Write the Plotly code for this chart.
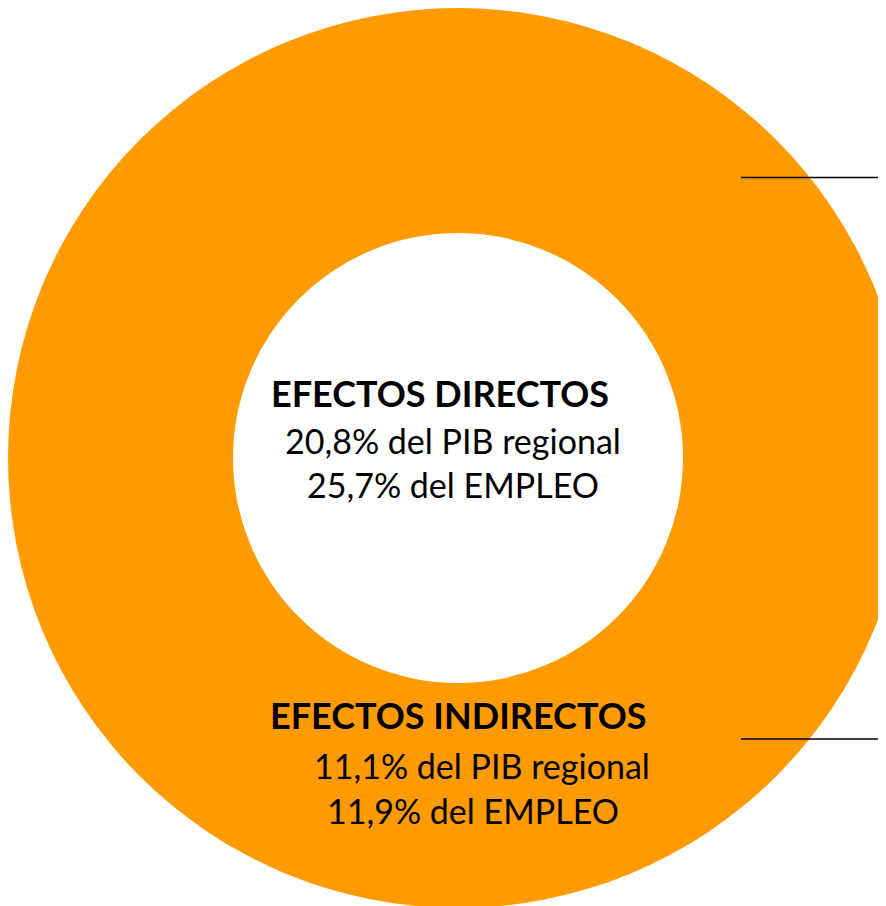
import plotly.graph_objects as go

# ---- data ----
ring_labels = ["EFECTOS INDIRECTOS"]
ring_values = [1]
direct_title = "EFECTOS DIRECTOS"
direct_lines = ["20,8% del PIB regional", "25,7% del EMPLEO"]
indirect_title = "EFECTOS INDIRECTOS"
indirect_lines = ["11,1% del PIB regional", "11,9% del EMPLEO"]

ORANGE = "#FF9B00"
FONT = "Lato"

# figure is offset by the 8px page margin; it is made a bit larger so the ring
# runs off the right edge like in the reference
W, H = 906, 914
OFF = 8
D = 900  # ring diameter in px

fig = go.Figure()
fig.add_trace(go.Pie(
    labels=ring_labels,
    values=ring_values,
    hole=0.50,
    sort=False,
    textinfo="none",
    hoverinfo="skip",
    marker=dict(colors=[ORANGE], line=dict(width=0)),
    domain=dict(x=[0.0, D / W], y=[1 - D / H, 1.0]),
    showlegend=False,
))


def ann(text, xc, yc, size, bold=False):
    fig.add_annotation(
        text=f"<b>{text}</b>" if bold else text,
        x=(xc - OFF) / W, y=1 - (yc - OFF) / H, xref="paper", yref="paper",
        xanchor="center", yanchor="middle", showarrow=False,
        font=dict(family=FONT, size=size, color="#000000"),
    )


ann(direct_title, 439.5, 393, 36, bold=True)
ann(direct_lines[0], 453, 440, 34)
ann(direct_lines[1], 453, 484, 34)
ann(indirect_title, 458.5, 715, 36, bold=True)
ann(indirect_lines[0], 482.5, 765, 34)
ann(indirect_lines[1], 472.5, 810, 34)

# leader lines
for yline in (177.5, 739):
    yp = 1 - (yline - OFF) / H
    fig.add_shape(type="line", xref="paper", yref="paper",
                  x0=(741 - OFF) / W, x1=1.0, y0=yp, y1=yp,
                  line=dict(color="#000000", width=1.5))

fig.update_layout(
    width=W, height=H,
    margin=dict(l=0, r=0, t=0, b=0),
    paper_bgcolor="white", plot_bgcolor="white",
)

fig.write_html("out.html")
